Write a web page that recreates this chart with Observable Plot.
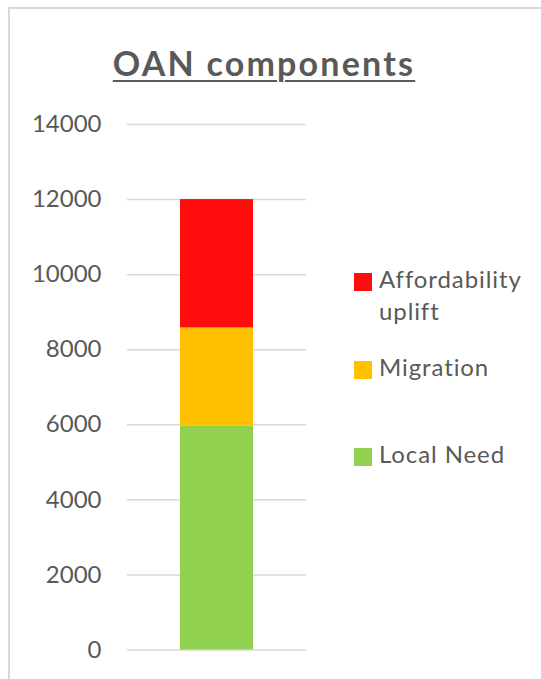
<!DOCTYPE html>
<html>
<head>
<meta charset="utf-8">
<script src="https://cdn.jsdelivr.net/npm/d3@7"></script>
<script src="https://cdn.jsdelivr.net/npm/@observablehq/plot@0.6"></script>
<style>
  html, body { margin: 0; padding: 0; background: #fff; }
  #wrap { position: relative; width: 541px; height: 679px; overflow: hidden; font-family: Lato, "Open Sans", sans-serif; }
  #frame { position: absolute; left: 8px; top: 7px; width: 560px; height: 700px; border: 2px solid #d9d9d9; box-sizing: border-box; }
  #title { position: absolute; left: 0; width: 528px; top: 42px; text-align: center; font-size: 34px; font-weight: bold; color: #595959; letter-spacing: 2.2px; }
  #title span { text-decoration: underline; text-decoration-thickness: 2px; text-underline-offset: 4px; }
  #chart { position: absolute; left: 0; top: 0; }
  .leg { position: absolute; left: 354px; font-size: 24px; color: #595959; line-height: 32px; letter-spacing: 0.9px; }
  .sw { position: absolute; left: 0; top: 10px; width: 18px; height: 18px; }
  .lt { position: absolute; left: 25px; top: 0; white-space: nowrap; }
</style>
</head>
<body>
<div id="wrap">
  <div id="frame"></div>
  <div id="chart"></div>
  <div id="title"><span>OAN components</span></div>
</div>
<script>
const categories = ["OAN"];
const series = ["Local Need", "Migration", "Affordability uplift"];
const values = [5960, 2620, 3420];
const colors = ["#92d050", "#ffc000", "#ff0d0d"];
const yTicks = [0, 2000, 4000, 6000, 8000, 10000, 12000, 14000];
const legendOrder = ["Affordability uplift", "Migration", "Local Need"];
const legendLines = [["Affordability", "uplift"], ["Migration"], ["Local Need"]];

const data = series.map((s, i) => ({cat: categories[0], series: s, value: values[i]}));

const chart = Plot.plot({
  width: 541,
  height: 679,
  marginTop: 124,
  marginBottom: 29.5,
  marginLeft: 127,
  marginRight: 235,
  style: {fontFamily: "Lato, 'Open Sans', sans-serif", background: "transparent"},
  x: {domain: categories, padding: 0.42, axis: null, label: null},
  y: {domain: [0, 14000], ticks: yTicks, axis: null, label: null},
  color: {domain: series, range: colors},
  marks: [
    Plot.ruleY(yTicks, {stroke: "#d9d9d9", strokeWidth: 1.5}),
    Plot.barY(data, Plot.stackY({x: "cat", y: "value", fill: "series", order: series})),
    Plot.axisY(yTicks, {tickSize: 0, tickPadding: 26, fontSize: 24, fill: "#595959", label: null, tickFormat: d => String(d)})
  ]
});
document.getElementById("chart").appendChild(chart);

const tops = [263, 351, 438];
const wrap = document.getElementById("wrap");
legendOrder.forEach((name, i) => {
  const c = colors[series.indexOf(name)];
  const d = document.createElement("div");
  d.className = "leg";
  d.style.top = tops[i] + "px";
  d.innerHTML = `<div class="sw" style="background:${c}"></div><div class="lt">${legendLines[i].join("<br>")}</div>`;
  wrap.appendChild(d);
});
</script>
</body>
</html>
